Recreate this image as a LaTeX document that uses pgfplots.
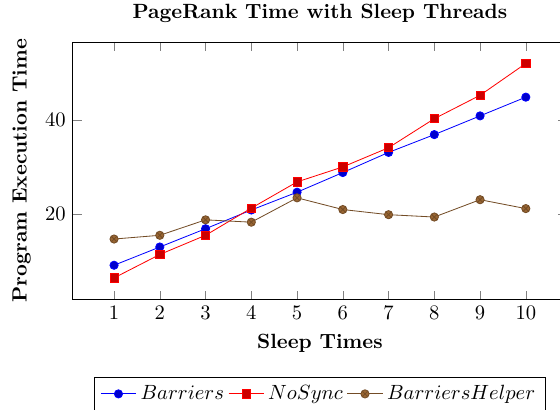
\documentclass[border=0pt]{standalone}
\usepackage{pgfplots}
\pgfplotsset{compat=1.18}
\begin{document}
\begin{tikzpicture}
\begin{axis}[
  scale only axis,
  width=240pt, height=125pt,
  title={\textbf{PageRank Time with Sleep Threads}},
  xlabel={\textbf{Sleep Times}},
  ylabel={\textbf{Program Execution Time}},
  xtick={1,2,3,4,5,6,7,8,9,10},
  ytick={20,40},
  legend style={at={(0.5,-0.3)},anchor=north,legend columns=-1},
]
\addplot coordinates {(1,9.0) (2,12.9) (3,16.8) (4,20.8) (5,24.6) (6,28.8) (7,33.1) (8,36.9) (9,40.9) (10,44.9)};
\addplot coordinates {(1,6.3) (2,11.3) (3,15.4) (4,21.2) (5,26.8) (6,30.0) (7,34.1) (8,40.3) (9,45.3) (10,52.1)};
\addplot coordinates {(1,14.6) (2,15.4) (3,18.7) (4,18.2) (5,23.4) (6,20.9) (7,19.8) (8,19.3) (9,23.0) (10,21.1)};
\legend{$Barriers$,$NoSync$,$BarriersHelper$}
\coordinate (bl) at (rel axis cs:0,0);
\coordinate (tr) at (rel axis cs:1,1);
\end{axis}
\pgfresetboundingbox
\path[use as bounding box] ([xshift=-35.4pt,yshift=-53.7pt]bl) rectangle ([xshift=-3.4pt,yshift=20.4pt]tr);
\end{tikzpicture}
\end{document}
